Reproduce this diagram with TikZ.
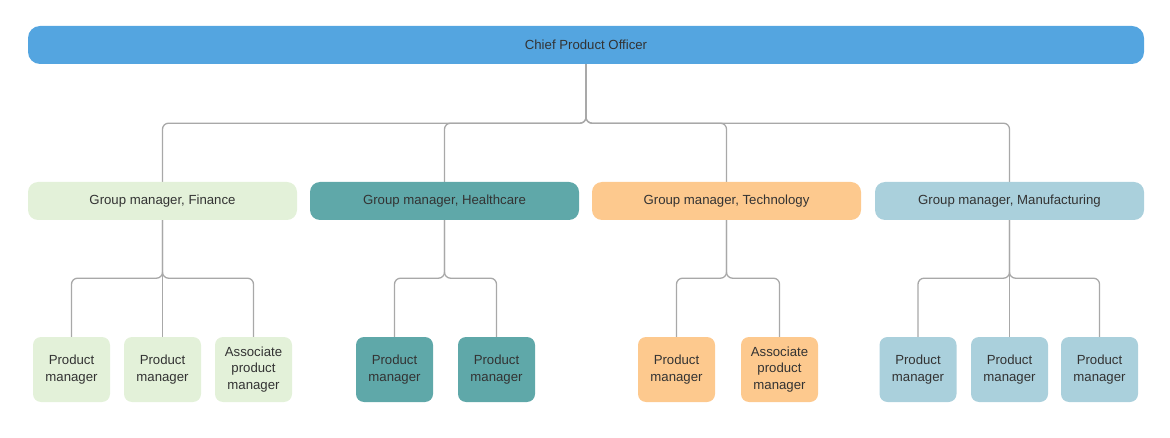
\documentclass[tikz,border=0pt]{standalone}
\usepackage{fontspec}
\setmainfont{Liberation Sans}
\usetikzlibrary{backgrounds}
\definecolor{cpoblue}{HTML}{54A5E0}
\definecolor{fin}{HTML}{E3F1D9}
\definecolor{hc}{HTML}{5FA8A9}
\definecolor{tech}{HTML}{FDC98E}
\definecolor{manu}{HTML}{AAD0DC}
\definecolor{txt}{HTML}{333333}
\definecolor{connc}{HTML}{A8A8A8}
\begin{document}
\begin{tikzpicture}[x=1pt,y=-1pt,
  box/.style={rounded corners=#1, text=txt, inner sep=0pt,
    font=\fontsize{13.2}{16.5}\selectfont, align=center},
  cpobox/.style={box=12pt, fill=cpoblue, minimum width=1116pt, minimum height=38pt},
  grp/.style={box=10pt, minimum width=269pt, minimum height=38pt},
  leaf/.style={box=8pt, minimum width=77pt, minimum height=65pt},
  link/.style={draw=connc, line width=1.3pt, rounded corners=6pt}]
\useasboundingbox (0,0) rectangle (1170,438);

\node[cpobox] (cpo) at (586,45) {Chief Product Officer};

\node[grp, fill=fin]  (g1) at (162.5,201) {Group manager, Finance};
\node[grp, fill=hc]   (g2) at (444.5,201) {Group manager, Healthcare};
\node[grp, fill=tech] (g3) at (726.5,201) {Group manager, Technology};
\node[grp, fill=manu] (g4) at (1009.5,201) {Group manager, Manufacturing};

\node[leaf, fill=fin] (f1) at (71.5,369.5) {Product\\manager};
\node[leaf, fill=fin] (f2) at (162.5,369.5) {Product\\manager};
\node[leaf, fill=fin] (f3) at (253.5,369.5) {Associate\\product\\manager};

\node[leaf, fill=hc] (h1) at (394.5,369.5) {Product\\manager};
\node[leaf, fill=hc] (h2) at (496.5,369.5) {Product\\manager};

\node[leaf, fill=tech] (t1) at (676.5,369.5) {Product\\manager};
\node[leaf, fill=tech] (t2) at (779.5,369.5) {Associate\\product\\manager};

\node[leaf, fill=manu] (m1) at (918,369.5) {Product\\manager};
\node[leaf, fill=manu] (m2) at (1009.5,369.5) {Product\\manager};
\node[leaf, fill=manu] (m3) at (1099.5,369.5) {Product\\manager};

\begin{scope}[on background layer]
  \foreach \g in {g1,g2,g3,g4}
    \draw[link] (cpo.south) -- ++(0,59) -| (\g.north);
  \draw[link] (g1.south) -- ++(0,58) -| (f1.north);
  \draw[link] (g1.south) -- (f2.north);
  \draw[link] (g1.south) -- ++(0,58) -| (f3.north);
  \draw[link] (g2.south) -- ++(0,58) -| (h1.north);
  \draw[link] (g2.south) -- ++(0,58) -| (h2.north);
  \draw[link] (g3.south) -- ++(0,58) -| (t1.north);
  \draw[link] (g3.south) -- ++(0,58) -| (t2.north);
  \draw[link] (g4.south) -- ++(0,58) -| (m1.north);
  \draw[link] (g4.south) -- (m2.north);
  \draw[link] (g4.south) -- ++(0,58) -| (m3.north);
\end{scope}
\end{tikzpicture}
\end{document}
